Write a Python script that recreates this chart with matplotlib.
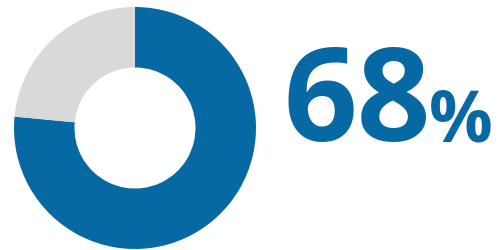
import matplotlib
matplotlib.use('Agg')
import matplotlib.pyplot as plt

# Donut values (share shown in blue vs remainder)
labels = ['Yes', 'Other']
values = [76.5, 23.5]
colors = ['#0769a4', '#d9d9d9']
big_number = '68'
unit = '%'

fig = plt.figure(figsize=(5, 2.5), dpi=100)
ax = fig.add_axes([14 / 500, 1 / 250, 242 / 500, 242 / 250])
ax.pie(values, colors=colors, startangle=90, counterclock=False,
       radius=1, wedgeprops=dict(width=0.5, linewidth=0))
ax.set_xlim(-1, 1)
ax.set_ylim(-1, 1)
ax.set_aspect('equal')
ax.axis('off')

# Big percentage text
fig.text(283 / 500, (250 - 141) / 250, big_number, fontsize=93,
         fontweight='bold', family='Open Sans', color='#0769a4',
         ha='left', va='baseline')
fig.text(429 / 500, (250 - 141) / 250, unit, fontsize=51,
         fontweight='bold', family='Open Sans', color='#0769a4',
         ha='left', va='baseline')

fig.savefig('out.png', dpi=100)
